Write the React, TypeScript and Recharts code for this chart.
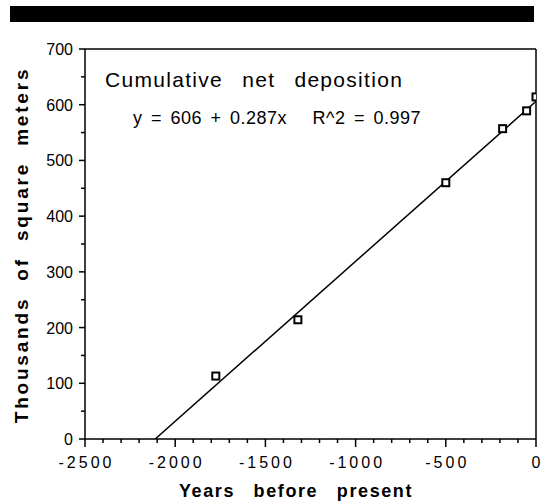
import React from "react";
import { ComposedChart, XAxis, YAxis, Scatter, Line, ReferenceLine } from "recharts";

const yearsBP = [-1775, -1320, -500, -185, -52, 0];
const areaK = [113, 214, 460, 557, 589, 614];
const fitYears = [-2111, 0];
const fitArea = [0, 606];
const xTicks = [-2500, -2400, -2300, -2200, -2100, -2000, -1900, -1800, -1700, -1600, -1500, -1400, -1300, -1200, -1100, -1000, -900, -800, -700, -600, -500, -400, -300, -200, -100, 0];
const yTicks = [0, 50, 100, 150, 200, 250, 300, 350, 400, 450, 500, 550, 600, 650, 700];
const xLabels = [-2500, -2000, -1500, -1000, -500, 0];
const yLabels = [0, 100, 200, 300, 400, 500, 600, 700];

const points = yearsBP.map((x, i) => ({ x, y: areaK[i] }));
const fit = fitYears.map((x, i) => ({ x, fit: fitArea[i] }));

const FONT = "'Liberation Sans', Arial, Helvetica, sans-serif";

const XTick = (props: any) => {
  const { x, y, payload } = props;
  const v = payload.value;
  const major = xLabels.includes(v);
  return (
    <g>
      <line x1={x} y1={y} x2={x} y2={y + (major ? 8 : 4)} stroke="#000" strokeWidth={1.5} />
      {major && (
        <text x={x + 1.5} y={y + 29} textAnchor="middle" fontSize={16} fontFamily={FONT} fill="#000" style={{ letterSpacing: "3px" }}>
          {v === 0 ? "0" : "-" + Math.abs(v)}
        </text>
      )}
    </g>
  );
};

const YTick = (props: any) => {
  const { x, y, payload } = props;
  const v = payload.value;
  const major = yLabels.includes(v);
  return (
    <g>
      <line x1={x - (major ? 6 : 4)} y1={y} x2={x} y2={y} stroke="#000" strokeWidth={1.5} />
      {major && (
        <text x={x - 12} y={y + 6} textAnchor="end" fontSize={16} fontFamily={FONT} fill="#000">
          {v}
        </text>
      )}
    </g>
  );
};

const SquareMark = (props: any) => {
  const { cx, cy } = props;
  return (
    <g>
      <rect x={cx - 3.5} y={cy - 3.5} width={7} height={7} fill="#fff" stroke="#000" strokeWidth={2} />
    </g>
  );
};

export default function App() {
  return (
    <div style={{ position: "absolute", left: 0, top: 0, width: 542, height: 502, background: "#fff" }}>
      <ComposedChart width={542} height={502} margin={{ top: 49, right: 6, bottom: 33, left: 25 }}>
        <XAxis
          type="number"
          dataKey="x"
          domain={[-2500, 0]}
          ticks={xTicks}
          interval={0}
          tickSize={0}
          tickMargin={0}
          tickLine={false}
          tick={<XTick />}
          height={30}
          axisLine={{ stroke: "#000", strokeWidth: 1.5 }}
          allowDataOverflow
        />
        <YAxis
          type="number"
          domain={[0, 700]}
          ticks={yTicks}
          interval={0}
          tickSize={0}
          tickMargin={0}
          tickLine={false}
          tick={<YTick />}
          width={60}
          axisLine={{ stroke: "#000", strokeWidth: 1.5 }}
          allowDataOverflow
        />
        <ReferenceLine y={700} stroke="#000" strokeWidth={1.5} />
        <ReferenceLine x={0} stroke="#000" strokeWidth={1.5} />
        <Line data={fit} dataKey="fit" stroke="#000" strokeWidth={1.5} dot={false} isAnimationActive={false} type="linear" />
        <Scatter data={points} dataKey="y" shape={<SquareMark />} isAnimationActive={false} />
      </ComposedChart>
      <svg width={542} height={502} style={{ position: "absolute", left: 0, top: 0, pointerEvents: "none" }}>
        <rect x={10} y={6} width={524} height={16} fill="#000" />
        <text x={105} y={87} fontSize={21} fontFamily={FONT} fill="#000" style={{ letterSpacing: "1.3px", wordSpacing: "12px" }}>
          Cumulative net deposition
        </text>
        <text x={133} y={124} fontSize={18} fontFamily={FONT} fill="#000" style={{ letterSpacing: "0.5px", wordSpacing: "3px" }}>
          {"y = 606 + 0.287x \u00a0\u00a0R^2 = 0.997"}
        </text>
        <text
          x={0}
          y={0}
          transform="translate(28,245) rotate(-90)"
          textAnchor="middle"
          fontSize={19}
          fontWeight="bold"
          fontFamily={FONT}
          fill="#000"
          style={{ letterSpacing: "2.8px", wordSpacing: "8px" }}
        >
          Thousands of square meters
        </text>
        <text x={296} y={497} textAnchor="middle" fontSize={18} fontWeight="bold" fontFamily={FONT} fill="#000" style={{ letterSpacing: "1.6px", wordSpacing: "12px" }}>
          Years before present
        </text>
      </svg>
    </div>
  );
}
